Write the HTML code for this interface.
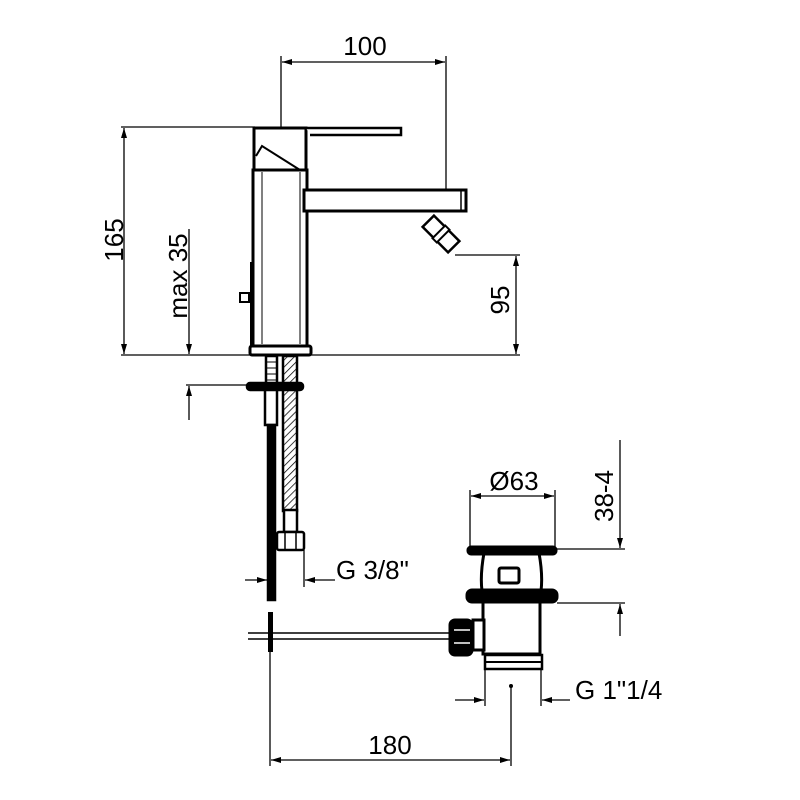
<!DOCTYPE html>
<html><head><style>body{margin:0;background:#fff}svg{display:block}text{font-family:"Liberation Sans",sans-serif;fill:#000}</style></head>
<body>
<svg width="800" height="800" viewBox="0 0 800 800" xmlns="http://www.w3.org/2000/svg">
<defs>
<marker id="a" viewBox="0 0 10 6" refX="10" refY="3" markerWidth="10" markerHeight="6" orient="auto-start-reverse" markerUnits="userSpaceOnUse"><path d="M0,0 L10,3 L0,6 Z" fill="#000"/></marker>
<pattern id="h" width="5" height="5" patternUnits="userSpaceOnUse" patternTransform="rotate(45)"><line x1="0" y1="0" x2="0" y2="5" stroke="#000" stroke-width="1.5"/></pattern>
</defs>
<g stroke="#000" fill="none" stroke-width="1.3">
<line x1="281" y1="56" x2="281" y2="127"/>
<line x1="446" y1="56" x2="446" y2="212"/>
<line x1="282" y1="62" x2="445" y2="62" marker-start="url(#a)" marker-end="url(#a)"/>
<line x1="121" y1="127" x2="255" y2="127"/>
<line x1="121" y1="355" x2="520" y2="355"/>
<line x1="124" y1="128" x2="124" y2="354" marker-start="url(#a)" marker-end="url(#a)"/>
<line x1="189" y1="229" x2="189" y2="354" marker-end="url(#a)"/>
<line x1="186" y1="385" x2="275" y2="385"/>
<line x1="189" y1="420" x2="189" y2="386" marker-end="url(#a)"/>
<line x1="455" y1="255" x2="520" y2="255"/>
<line x1="516" y1="256" x2="516" y2="354" marker-start="url(#a)" marker-end="url(#a)"/>
</g>
<g stroke="#000" fill="#fff" stroke-width="3">
<path d="M254,128 L306,128 L306,170 L254,170 Z"/>
<path d="M306,128 L401,128 L401,135 L310,135" stroke-width="2.5"/>
<path d="M256,156 L262,146 L300,170" stroke-width="2" fill="none"/>
<rect x="253" y="170" width="54" height="176"/>
<line x1="262" y1="172" x2="262" y2="344" stroke-width="1"/>
<line x1="300" y1="172" x2="300" y2="344" stroke-width="1"/>
<rect x="250" y="346" width="61" height="9" rx="2"/>
<rect x="304" y="190" width="162" height="21"/>
<line x1="461" y1="191" x2="461" y2="210" stroke-width="1.5"/>
<g transform="translate(441,234) rotate(-45)"><rect x="-8" y="-18" width="16" height="36" stroke-width="2.5"/><rect x="-9" y="-3" width="18" height="6" stroke-width="2"/></g>
<rect x="240" y="293" width="9" height="9" stroke-width="2"/>
<line x1="251" y1="262" x2="251" y2="346" stroke-width="2"/>
</g>
<g stroke="#000" stroke-width="2.5" fill="#fff">
<rect x="266" y="356" width="11" height="28"/>
<line x1="267" y1="362" x2="276" y2="362" stroke-width="1"/><line x1="267" y1="368" x2="276" y2="368" stroke-width="1"/><line x1="267" y1="374" x2="276" y2="374" stroke-width="1"/><line x1="267" y1="380" x2="276" y2="380" stroke-width="1"/>
<rect x="283" y="356" width="14" height="155" fill="url(#h)"/>
<rect x="247" y="383" width="56" height="7" rx="3" fill="#000"/>
<rect x="265" y="390" width="12" height="35"/>
<rect x="268" y="425" width="7" height="175" fill="#000"/>
<rect x="284" y="510" width="13" height="22"/>
<rect x="277" y="532" width="27" height="18" rx="2"/>
<line x1="285" y1="533" x2="285" y2="549" stroke-width="1.5"/><line x1="296" y1="533" x2="296" y2="549" stroke-width="1.5"/>
</g>
<g stroke="#000" fill="none" stroke-width="1.3">
<line x1="304" y1="550" x2="304" y2="587"/>
<line x1="245" y1="580" x2="267" y2="580" marker-end="url(#a)"/>
<line x1="335" y1="580" x2="305" y2="580" marker-end="url(#a)"/>
<line x1="470" y1="490" x2="470" y2="548"/>
<line x1="555" y1="490" x2="555" y2="548"/>
<line x1="471" y1="496" x2="554" y2="496" marker-start="url(#a)" marker-end="url(#a)"/>
<line x1="557" y1="549" x2="625" y2="549"/>
<line x1="557" y1="603" x2="625" y2="603"/>
<line x1="620" y1="440" x2="620" y2="548" marker-end="url(#a)"/>
<line x1="620" y1="636" x2="620" y2="604" marker-end="url(#a)"/>
<line x1="485" y1="670" x2="485" y2="706"/>
<line x1="541" y1="670" x2="541" y2="706"/>
<line x1="455" y1="700" x2="484" y2="700" marker-end="url(#a)"/>
<line x1="570" y1="700" x2="542" y2="700" marker-end="url(#a)"/>
<line x1="270" y1="650" x2="270" y2="766"/>
<line x1="511" y1="686" x2="511" y2="766"/>
<line x1="271" y1="760" x2="510" y2="760" marker-start="url(#a)" marker-end="url(#a)"/>
</g>
<circle cx="511" cy="686" r="2" fill="#000"/>
<g stroke="#000" stroke-width="3" fill="#fff">
<line x1="248" y1="633" x2="455" y2="633" stroke-width="1.5"/>
<line x1="248" y1="639" x2="455" y2="639" stroke-width="1.5"/>
<rect x="268" y="612" width="5" height="40" fill="#000" stroke="none"/>
<path d="M484,553 Q480,575 482,591 L541,591 Q543,575 539,553 Z"/>
<rect x="468" y="547" width="88" height="7" rx="3" fill="#000"/>
<rect x="499" y="568" width="20" height="15" rx="2"/>
<rect x="467" y="590" width="90" height="12" rx="5" fill="#000"/>
<rect x="483" y="602" width="57" height="52"/>
<rect x="473" y="620" width="11" height="30"/>
<rect x="450" y="620" width="22" height="35" rx="5" fill="#000"/>
<line x1="454" y1="630" x2="470" y2="630" stroke="#fff" stroke-width="1.5"/>
<line x1="454" y1="643" x2="470" y2="643" stroke="#fff" stroke-width="1.5"/>
<rect x="485" y="655" width="57" height="14" stroke-width="2.5"/>
<line x1="486" y1="662" x2="541" y2="662" stroke-width="2"/>
</g>
<text x="365" y="55" font-size="26" text-anchor="middle">100</text>
<text transform="translate(123,240) rotate(-90)" font-size="26" text-anchor="middle">165</text>
<text transform="translate(187,276) rotate(-90)" font-size="26" text-anchor="middle">max 35</text>
<text transform="translate(509,300) rotate(-90)" font-size="26" text-anchor="middle">95</text>
<text x="514" y="490" font-size="26" text-anchor="middle">Ø63</text>
<text transform="translate(613,496) rotate(-90)" font-size="26" text-anchor="middle">38-4</text>
<text x="336" y="579" font-size="26">G 3/8"</text>
<text x="575" y="699" font-size="26">G 1"1/4</text>
<text x="390" y="754" font-size="26" text-anchor="middle">180</text>
</svg>
</body></html>
